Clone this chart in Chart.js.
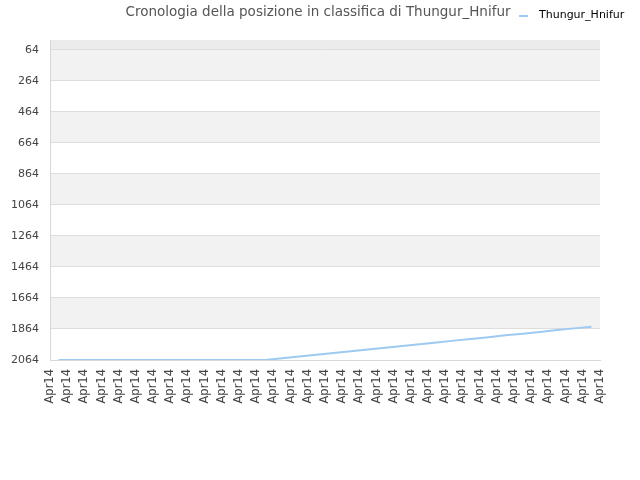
<!DOCTYPE html>
<html>
<head>
<meta charset="utf-8">
<script src="https://cdn.jsdelivr.net/npm/chart.js@4"></script>
<style>
  html, body { margin: 0; padding: 0; background: #fff; }
  #wrap { width: 640px; height: 480px; }
</style>
</head>
<body>
<div id="wrap"><canvas id="chart1" width="640" height="480"></canvas></div>
<script>
// chart data
const chartTitle = 'Cronologia della posizione in classifica di Thungur_Hnifur';
const seriesName = 'Thungur_Hnifur';
const xLabels = ['Apr14', 'Apr14', 'Apr14', 'Apr14', 'Apr14', 'Apr14', 'Apr14', 'Apr14', 'Apr14', 'Apr14', 'Apr14',
  'Apr14', 'Apr14', 'Apr14', 'Apr14', 'Apr14', 'Apr14', 'Apr14', 'Apr14', 'Apr14', 'Apr14', 'Apr14',
  'Apr14', 'Apr14', 'Apr14', 'Apr14', 'Apr14', 'Apr14', 'Apr14', 'Apr14', 'Apr14', 'Apr14', 'Apr14'];
const rankValues = [2064, 2064, 2064, 2064, 2064, 2064, 2064, 2064, 2064, 2064, 2064, 2064, 2064,
  2053, 2041, 2030, 2019, 2007, 1996, 1985, 1973, 1962, 1951, 1939, 1928, 1917, 1905, 1894, 1883, 1871, 1860, 1849];
const yTicks = [64, 264, 464, 664, 864, 1064, 1264, 1464, 1664, 1864, 2064];

// points sit half way between the date labels
const points = rankValues.map((v, i) => ({ x: i + 0.5, y: v }));

// alternating background bands + title/legend
const bandsPlugin = {
  id: 'bands',
  beforeDraw(chart) {
    const { ctx, chartArea } = chart;
    const y = chart.scales.y;
    ctx.save();
    ctx.fillStyle = '#ececec';
    ctx.fillRect(chartArea.left, chartArea.top, chartArea.width, y.getPixelForValue(yTicks[0]) - chartArea.top);
    for (let i = 0; i < yTicks.length - 1; i += 2) {
      const top = y.getPixelForValue(yTicks[i]);
      const bot = y.getPixelForValue(yTicks[i + 1]);
      ctx.fillStyle = '#f2f2f2';
      ctx.fillRect(chartArea.left, top, chartArea.width, bot - top);
    }
    ctx.restore();
  },
  afterDraw(chart) {
    const ctx = chart.ctx;
    ctx.save();
    ctx.font = '13.5px "DejaVu Sans"';
    ctx.fillStyle = '#555';
    ctx.textAlign = 'center';
    ctx.textBaseline = 'middle';
    ctx.fillText(chartTitle, 318, 12);
    ctx.strokeStyle = '#9ecaf2';
    ctx.lineWidth = 2;
    ctx.beginPath();
    ctx.moveTo(519, 16);
    ctx.lineTo(528, 16);
    ctx.stroke();
    ctx.font = '11px "DejaVu Sans"';
    ctx.fillStyle = '#000';
    ctx.textAlign = 'left';
    ctx.fillText(seriesName, 539, 15);
    ctx.restore();
  }
};

new Chart(document.getElementById('chart1'), {
  type: 'line',
  data: {
    datasets: [{
      label: seriesName,
      data: points,
      borderColor: '#9ecaf2',
      borderWidth: 2,
      pointRadius: 0,
      fill: false,
      tension: 0
    }]
  },
  options: {
    responsive: false,
    animation: false,
    layout: { padding: { top: 40, right: 40, left: 0, bottom: 0 } },
    plugins: {
      legend: { display: false },
      title: { display: false },
      tooltip: { enabled: false }
    },
    scales: {
      x: {
        type: 'linear',
        min: 0,
        max: xLabels.length - 1,
        grid: { display: false, drawTicks: false },
        border: { display: true, color: '#d8d8d8' },
        afterBuildTicks: axis => { axis.ticks = xLabels.map((l, i) => ({ value: i })); },
        afterFit: axis => { axis.height = 120; },
        ticks: {
          autoSkip: false,
          minRotation: 90,
          maxRotation: 90,
          padding: 9,
          color: '#444',
          font: { family: 'DejaVu Sans', size: 11.5 },
          callback: (v, i) => xLabels[i]
        }
      },
      y: {
        type: 'linear',
        reverse: true,
        min: 0,
        max: 2064,
        grid: { color: '#dddddd', drawTicks: false },
        border: { display: true, color: '#d8d8d8' },
        afterBuildTicks: axis => { axis.ticks = yTicks.map(v => ({ value: v })); },
        afterFit: axis => { axis.width = 50; },
        ticks: {
          padding: 11,
          color: '#444',
          font: { family: 'DejaVu Sans', size: 11 },
          callback: v => String(v)
        }
      }
    }
  },
  plugins: [bandsPlugin]
});
</script>
</body>
</html>
